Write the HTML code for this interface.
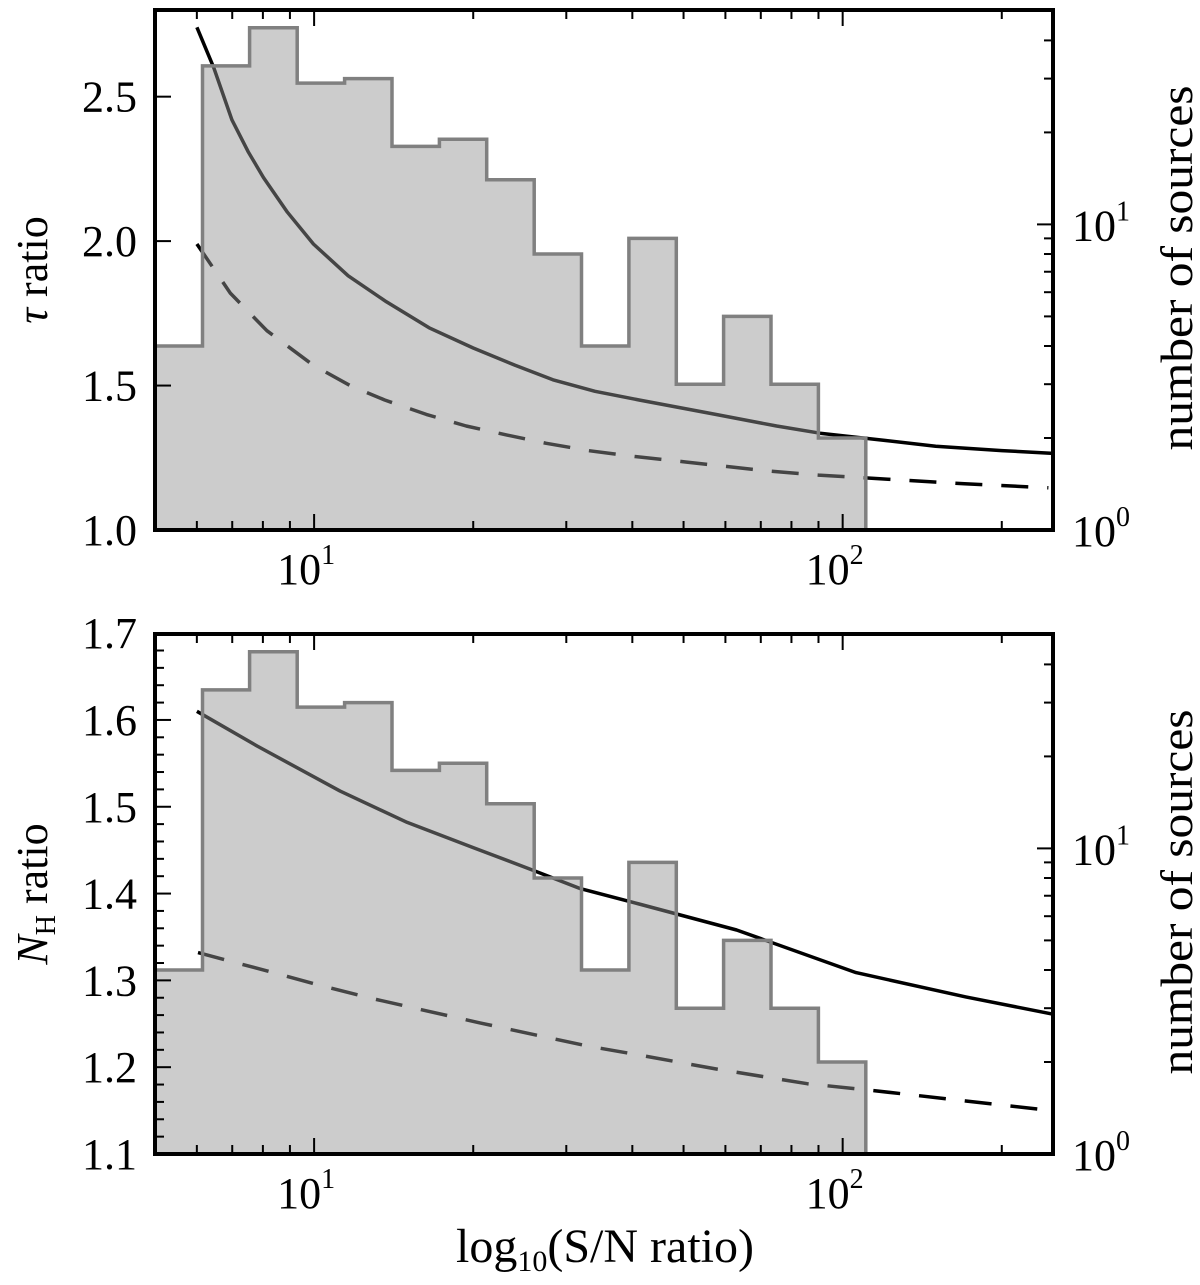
<!DOCTYPE html>
<html><head><meta charset="utf-8"><style>
html,body{margin:0;padding:0;background:#fff;}
svg{display:block;font-family:"Liberation Serif",serif;}
</style></head><body>
<svg id="chart" width="1200" height="1285" viewBox="0 0 1200 1285" xmlns="http://www.w3.org/2000/svg"></svg>
<script>
// Shared histogram (number of sources per S/N bin)
const binEdges = [5.0, 6.15, 7.55, 9.29, 11.42, 14.04, 17.26, 21.21, 26.08, 32.06, 39.40, 48.44, 59.54, 73.19, 89.97, 110.6];
const binCounts = [4, 33, 44, 29, 30, 18, 19, 14, 8, 4, 9, 3, 5, 3, 2];
// Top panel curves (tau ratio)
const tauSolidX = [6.0, 6.46, 6.99, 7.5, 8.02, 8.9, 9.97, 11.6, 13.7, 16.5, 20.0, 24, 28.3, 34, 41.2, 57.5, 75, 90.6, 120, 150, 200, 250];
const tauSolidY = [2.74, 2.60, 2.42, 2.31, 2.22, 2.10, 1.99, 1.88, 1.79, 1.70, 1.63, 1.57, 1.52, 1.48, 1.45, 1.40, 1.36, 1.335, 1.31, 1.29, 1.275, 1.265];
const tauDashX = [6.0, 6.94, 8.14, 9.97, 11.7, 13.6, 16.3, 19.4, 23, 27.5, 33, 40.1, 50.7, 71.6, 90, 116.6, 170, 245];
const tauDashY = [1.99, 1.82, 1.69, 1.57, 1.50, 1.45, 1.40, 1.36, 1.33, 1.30, 1.275, 1.255, 1.235, 1.205, 1.19, 1.178, 1.16, 1.146];
// Bottom panel curves (N_H ratio)
const nhSolidX = [6.0, 7.8, 11.2, 15.0, 20.0, 25.9, 31.8, 41.2, 63.0, 106, 171, 250];
const nhSolidY = [1.610, 1.570, 1.518, 1.482, 1.453, 1.427, 1.406, 1.388, 1.358, 1.309, 1.281, 1.261];
const nhDashX = [6.03, 8.13, 10.3, 12.9, 16.3, 20.6, 26.3, 33.2, 41.2, 57.5, 85.7, 114.5, 240];
const nhDashY = [1.332, 1.311, 1.294, 1.279, 1.265, 1.251, 1.237, 1.224, 1.214, 1.198, 1.181, 1.173, 1.151];
const tauTicks = [1.0, 1.5, 2.0, 2.5];
const nhTicks = [1.1, 1.2, 1.3, 1.4, 1.5, 1.6, 1.7];

const NS = "http://www.w3.org/2000/svg";
const svg = document.getElementById('chart');
function mk(tag, attrs, parent) {
  const e = document.createElementNS(NS, tag);
  for (const k in attrs) e.setAttribute(k, attrs[k]);
  (parent || svg).appendChild(e);
  return e;
}
const L = 155, R = 1053;
const xMin = 5, xMax = 250;
function sx(v) { return L + (Math.log10(v) - Math.log10(xMin)) / (Math.log10(xMax) - Math.log10(xMin)) * (R - L); }

function panel(name, top, bot, yMin, yMax, ticks, minorStep, sX, sY, dX, dY, titleNode) {
  const g = mk('g', {});
  
  
  const sy = v => bot - (v - yMin) / (yMax - yMin) * (bot - top);
  const cMax = 10 ** ((bot - top) / 305.6);
  const sc = c => bot - Math.log10(c) / Math.log10(cMax) * (bot - top);
  function line(xs, ys, dashed, nm) {
    let d = '';
    for (let i = 0; i < xs.length; i++) d += (i ? 'L' : 'M') + sx(xs[i]).toFixed(1) + ',' + sy(ys[i]).toFixed(1);
    const p = mk('path', {d: d, fill: 'none', stroke: '#000', 'stroke-width': 3.5, 'stroke-linejoin': 'round', 'stroke-dasharray': dashed ? '27,19' : 'none'}, g);
    
    
  }
  line(sX, sY, false, 'solid-curve');
  line(dX, dY, true, 'dashed-curve');
  let d = 'M' + L + ',' + bot;
  for (let i = 0; i < binCounts.length; i++) {
    const y = sc(binCounts[i]).toFixed(1);
    d += 'L' + Math.max(L, sx(binEdges[i])).toFixed(1) + ',' + y + 'L' + sx(binEdges[i + 1]).toFixed(1) + ',' + y;
  }
  d += 'L' + sx(binEdges[binEdges.length - 1]).toFixed(1) + ',' + bot + 'Z';
  const h = mk('path', {d: d, fill: 'rgba(146,146,146,0.47)', stroke: '#808080', 'stroke-width': 3.5}, g);
  
  
  const fr = mk('rect', {x: L, y: top, width: R - L, height: bot - top, fill: 'none', stroke: '#000', 'stroke-width': 4}, g);
  
  
  for (let dec = 1; dec <= 100; dec *= 10) {
    for (let m = 1; m <= 9; m++) {
      const v = m * dec;
      if (v < xMin || v > xMax) continue;
      const x = sx(v), len = m === 1 ? 16 : 9;
      mk('line', {x1: x, x2: x, y1: bot, y2: bot - len, stroke: '#000', 'stroke-width': 2}, g);
      mk('line', {x1: x, x2: x, y1: top, y2: top + len, stroke: '#000', 'stroke-width': 2}, g);
    }
  }
  [[10, '1'], [100, '2']].forEach(([v, e]) => {
    const t = mk('text', {x: sx(v) - 8, y: bot + 54, 'font-size': 44, 'text-anchor': 'middle'}, g);
    
    
    t.textContent = '10';
    const s = mk('tspan', {'font-size': 28, dy: -20}, t); s.textContent = e;
  });
  for (let v = yMin; v <= yMax + 1e-9; v += minorStep) {
    const y = sy(v);
    const major = ticks.some(t => Math.abs(t - v) < 1e-6);
    mk('line', {x1: L, x2: L + (major ? 16 : 9), y1: y, y2: y, stroke: '#000', 'stroke-width': 2}, g);
  }
  ticks.forEach(v => {
    const t = mk('text', {x: 137, y: sy(v) + 15, 'font-size': 44, 'text-anchor': 'end'}, g);
    
    
    t.textContent = v.toFixed(1);
  });
  for (let dec = 1; dec <= 10; dec *= 10) for (let m = 1; m <= 9; m++) {
    const c = m * dec; if (c > cMax) continue;
    const y = sc(c);
    mk('line', {x1: R, x2: R - (m === 1 ? 16 : 9), y1: y, y2: y, stroke: '#000', 'stroke-width': 2}, g);
  }
  [[1, '0'], [10, '1']].forEach(([c, e]) => {
    const t = mk('text', {x: 1072, y: sc(c) + 16, 'font-size': 44}, g);
    
    
    t.textContent = '10';
    const s = mk('tspan', {'font-size': 28, dy: -20}, t); s.textContent = e;
  });
  const mid = (top + bot) / 2;
  const rt = mk('text', {x: 0, y: 0, 'font-size': 46, 'text-anchor': 'middle', textLength: 365, lengthAdjust: 'spacingAndGlyphs', transform: 'translate(1192,' + (mid - 2) + ') rotate(-90)'}, g);
  
  
  rt.textContent = 'number of sources';
  const lt = mk('text', {x: 0, y: 0, 'font-size': 44, 'text-anchor': 'middle', transform: 'translate(47,' + mid + ') rotate(-90)'}, g);
  
  
  titleNode(lt);
}

panel('tau-panel', 10, 530, 1.0, 2.8, tauTicks, 0.5, tauSolidX, tauSolidY, tauDashX, tauDashY, t => {
  const a = mk('tspan', {'font-style': 'italic'}, t); a.textContent = 'τ';
  const b = mk('tspan', {}, t); b.textContent = ' ratio';
});
panel('nh-panel', 634, 1154, 1.1, 1.699, nhTicks, 0.02, nhSolidX, nhSolidY, nhDashX, nhDashY, t => {
  const a = mk('tspan', {'font-style': 'italic'}, t); a.textContent = 'N';
  const b = mk('tspan', {'font-size': 28, dy: 8}, t); b.textContent = 'H';
  const c = mk('tspan', {dy: -8}, t); c.textContent = ' ratio';
});
const xl = mk('text', {x: 605, y: 1262, 'font-size': 48, 'text-anchor': 'middle'});


xl.textContent = 'log';
const sub = mk('tspan', {'font-size': 30, dy: 9}, xl); sub.textContent = '10';
const rest = mk('tspan', {dy: -9}, xl); rest.textContent = '(S/N ratio)';
</script>
</body></html>
